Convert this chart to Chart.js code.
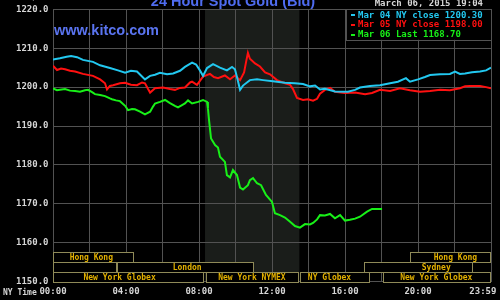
<!DOCTYPE html>
<html><head><meta charset="utf-8">
<script src="https://cdn.jsdelivr.net/npm/chart.js@4.4.1/dist/chart.umd.min.js"></script>
<style>html,body{margin:0;padding:0;background:#000;}canvas{display:block;}</style>
</head><body>
<canvas id="c" width="500" height="300"></canvas>
<script>
// ---- data ----
const seriesNames = ['Mar 04 NY close', 'Mar 05 NY close', 'Mar 06 Last'];
const seriesQuotes = [1200.30, 1198.00, 1168.70];

const mar04Hours = [0.00,0.38,0.75,0.99,1.32,1.64,2.19,2.58,3.12,3.56,3.95,4.27,4.60,5.04,5.32,5.59,5.86,6.25,6.58,6.96,7.23,7.62,7.84,8.05,8.22,8.44,8.77,9.15,9.53,9.81,9.97,10.08,10.25,10.41,10.79,11.18,11.51,12.05,12.71,13.26,13.70,14.08,14.36,14.63,14.90,15.45,16.16,16.55,16.82,17.37,17.92,18.47,18.90,19.34,19.56,20.00,20.38,20.66,21.21,21.75,22.03,22.30,22.58,22.96,23.40,23.73,24.00];
const mar04Prices = [1207.1,1207.4,1207.8,1208.0,1207.7,1207.0,1206.5,1205.6,1204.9,1204.3,1203.7,1204.2,1204.0,1202.0,1202.9,1203.2,1203.7,1203.3,1203.5,1204.2,1205.2,1206.3,1205.8,1204.3,1202.9,1204.9,1205.9,1205.0,1204.3,1205.2,1204.6,1202.6,1199.3,1200.4,1201.8,1202.0,1201.8,1201.5,1201.1,1201.0,1200.8,1200.2,1200.4,1199.4,1199.6,1198.9,1198.8,1199.3,1199.9,1200.3,1200.5,1201.0,1201.4,1202.3,1201.4,1202.0,1202.6,1203.1,1203.3,1203.4,1204.0,1203.4,1203.5,1203.8,1204.0,1204.3,1205.0];

const mar05Hours = [0.00,0.22,0.44,0.66,0.93,1.21,1.64,2.19,2.58,2.85,2.96,3.12,3.29,3.67,3.95,4.27,4.60,4.88,5.04,5.21,5.32,5.59,6.03,6.41,6.68,6.96,7.23,7.51,7.62,7.89,8.22,8.60,8.82,9.04,9.42,9.70,9.97,10.25,10.47,10.58,10.68,10.79,11.07,11.34,11.62,11.89,12.27,12.71,12.99,13.15,13.37,13.70,13.97,14.25,14.47,14.63,14.90,15.18,15.45,16.00,16.55,17.10,17.48,17.92,18.47,19.01,19.56,20.11,20.66,21.21,21.75,22.30,22.58,22.85,23.40,23.73,24.00];
const mar05Prices = [1205.5,1204.4,1204.8,1204.6,1204.2,1204.0,1203.4,1202.9,1202.0,1201.0,1199.4,1200.3,1200.5,1201.0,1201.1,1200.6,1200.5,1201.2,1201.0,1199.5,1198.6,1199.7,1199.9,1199.5,1199.3,1199.8,1199.9,1201.2,1201.4,1200.6,1202.7,1203.4,1202.6,1202.3,1203.0,1202.0,1203.0,1201.8,1203.8,1206.5,1208.8,1207.3,1206.1,1205.3,1203.8,1203.3,1201.8,1201.0,1200.6,1199.5,1197.2,1196.7,1196.9,1196.5,1197.0,1198.3,1199.3,1199.8,1198.8,1198.5,1198.6,1198.2,1198.5,1199.3,1199.0,1199.7,1199.2,1198.8,1199.0,1199.3,1199.2,1199.7,1200.2,1200.3,1200.3,1200.0,1199.7];

const mar06Hours = [0.00,0.22,0.38,0.66,0.93,1.21,1.48,1.75,1.92,2.14,2.30,2.58,2.85,3.12,3.23,3.45,3.67,3.95,4.11,4.33,4.49,4.77,5.04,5.32,5.48,5.59,5.86,6.14,6.41,6.68,6.85,7.07,7.23,7.40,7.62,7.95,8.22,8.44,8.49,8.55,8.66,8.88,9.04,9.15,9.42,9.53,9.70,9.86,10.08,10.25,10.41,10.68,10.79,10.96,11.18,11.40,11.67,12.00,12.16,12.44,12.71,12.99,13.26,13.53,13.81,14.08,14.25,14.47,14.63,14.90,15.18,15.45,15.73,16.00,16.27,16.55,16.82,17.21,17.48,18.03];
const mar06Prices = [1199.7,1199.2,1199.3,1199.5,1199.1,1199.0,1198.8,1199.2,1199.3,1198.7,1198.2,1198.0,1197.7,1197.1,1196.9,1196.6,1196.4,1195.2,1194.1,1194.4,1194.3,1193.7,1193.0,1193.7,1195.0,1195.8,1196.2,1196.7,1195.9,1195.2,1194.8,1195.4,1195.8,1196.6,1195.8,1196.2,1196.7,1196.2,1194.5,1191.5,1186.8,1185.1,1184.5,1182.1,1180.8,1177.4,1176.8,1178.7,1177.4,1174.2,1173.7,1174.8,1176.1,1176.6,1175.3,1174.8,1172.3,1170.5,1167.6,1167.1,1166.5,1165.4,1164.3,1163.9,1164.8,1164.7,1165.1,1166.0,1167.1,1167.0,1167.4,1166.3,1167.1,1165.7,1165.9,1166.2,1166.7,1168.0,1168.7,1168.7];

const xTickHours = [0, 4, 8, 12, 16, 20, 24];
const xTickLabels = ['00:00', '04:00', '08:00', '12:00', '16:00', '20:00', '23:59'];
const yMin = 1150, yMax = 1220, yStep = 10;

// trading sessions (NY time, hours)
const sessionNames = ['Hong Kong', 'Hong Kong', '', 'London', 'Sydney', 'New York Globex', 'New York NYMEX', 'NY Globex', 'New York Globex'];
const sessionStart = [0, 19.55, 0, 3.5, 17.03, 0, 8.36, 13.53, 18.06];
const sessionEnd   = [4.45, 24, 3.48, 11.0, 23.0, 8.29, 13.48, 17.39, 24];
const sessionRow   = [0, 0, 1, 1, 1, 2, 2, 2, 2];
const sessionLabelHour = [2.1, 22.05, null, 7.35, 21.0, 3.65, 10.9, 15.15, 21.0];
const comexWindow = [8.33, 13.5];

const titleText = '24 Hour Spot Gold (Bid)';
const siteText = 'www.kitco.com';
const stampText = 'March 06, 2015 19:04';
const unitText = 'USD/OZ';
const timeZoneText = 'NY Time';

// ---- styling ----
const colors = ['#22c8f0', '#ff1010', '#18f018'];
const GRID = '#525252';
const MONO = '"DejaVu Sans Mono", monospace';
const SESSION_TEXT = '#e2b000';
const SESSION_BORDER = '#8f8a58';

const zip = (h, p) => h.map((v, i) => ({x: v, y: p[i]}));
const seriesData = [zip(mar04Hours, mar04Prices), zip(mar05Hours, mar05Prices), zip(mar06Hours, mar06Prices)];

const decor = {
  id: 'decor',
  beforeDraw(chart) {
    const {ctx, chartArea: a, scales: {x}} = chart;
    ctx.save();
    ctx.fillStyle = '#000';
    ctx.fillRect(0, 0, chart.width, chart.height);
    const x0 = x.getPixelForValue(comexWindow[0]);
    const x1 = x.getPixelForValue(comexWindow[1]);
    ctx.fillStyle = '#1a1d1a';
    ctx.fillRect(x0, a.top, x1 - x0, a.bottom - a.top);
    ctx.restore();
  },
  afterDraw(chart) {
    const {ctx, chartArea: a, scales: {x}} = chart;
    ctx.save();
    // sessions
    const rowH = 10;
    ctx.font = 'bold 8px ' + MONO;
    ctx.textBaseline = 'middle';
    ctx.textAlign = 'center';
    for (let i = 0; i < sessionNames.length; i++) {
      const xs = Math.round(x.getPixelForValue(sessionStart[i]));
      const xe = Math.round(x.getPixelForValue(sessionEnd[i]));
      const top = Math.round(a.bottom - (3 - sessionRow[i]) * rowH);
      ctx.fillStyle = '#000';
      ctx.fillRect(xs, top, xe - xs, rowH);
      ctx.strokeStyle = SESSION_BORDER;
      ctx.lineWidth = 1;
      ctx.strokeRect(xs + 0.5, top + 0.5, xe - xs - 1, rowH);
      if (sessionNames[i]) {
        ctx.fillStyle = SESSION_TEXT;
        ctx.fillText(sessionNames[i], x.getPixelForValue(sessionLabelHour[i]), top + rowH / 2 + 0.5);
      }
    }
    // legend box
    const lw = 145, lh = 30.5;
    const lx = a.right - lw, ly = a.top;
    ctx.fillStyle = '#000';
    ctx.fillRect(lx, ly, lw, lh);
    ctx.strokeStyle = GRID;
    ctx.strokeRect(Math.round(lx) + 0.5, Math.round(ly) + 0.5, lw, Math.round(lh));
    ctx.font = 'bold 9px ' + MONO;
    ctx.textAlign = 'left';
    ctx.textBaseline = 'middle';
    for (let i = 0; i < seriesNames.length; i++) {
      const cy = ly + 6 + i * 9.7;
      ctx.fillStyle = colors[i];
      ctx.fillRect(lx + 5, Math.round(cy) - 1, 4, 2);
      ctx.fillText(seriesNames[i] + ' ' + seriesQuotes[i].toFixed(2), lx + 12, cy);
    }
    // stamp
    ctx.fillStyle = '#d6d6d6';
    ctx.textAlign = 'right';
    ctx.fillText(stampText, a.right - 8, 4);
    // unit
    ctx.fillText(unitText, 48.5, -2);
    // time zone
    ctx.textAlign = 'left';
    ctx.font = 'bold 8px ' + MONO;
    ctx.fillText(timeZoneText, 3, 293);
    // title
    ctx.fillStyle = '#4f6cf0';
    ctx.font = 'bold 14.5px "Liberation Sans", Arial, sans-serif';
    ctx.textAlign = 'center';
    ctx.textBaseline = 'alphabetic';
    ctx.fillText(titleText, 233, 5.5);
    ctx.fillStyle = '#5a74f0';
    ctx.textAlign = 'left';
    ctx.fillText(siteText, 54, 35);
    ctx.restore();
  }
};

const labelMap = {};
xTickHours.forEach((h, i) => { labelMap[h] = xTickLabels[i]; });

new Chart(document.getElementById('c'), {
  type: 'line',
  data: {
    datasets: seriesData.map((d, i) => ({
      label: seriesNames[i],
      data: d,
      borderColor: colors[i],
      backgroundColor: colors[i],
      borderWidth: 2,
      pointRadius: 0,
      tension: 0,
      fill: false
    }))
  },
  options: {
    responsive: false,
    animation: false,
    devicePixelRatio: 1,
    layout: {padding: {top: 9.3, right: 9, left: 0, bottom: 0}},
    plugins: {legend: {display: false}, tooltip: {enabled: false}, title: {display: false}},
    scales: {
      x: {
        type: 'linear', min: 0, max: 24,
        afterFit(s) { s.height = 18.3; s.paddingLeft = 0; s.paddingRight = 0; s.paddingTop = 0; s.paddingBottom = 0; },
        grid: {color: GRID, drawTicks: false, lineWidth: 1},
        border: {color: GRID},
        ticks: {
          stepSize: 2, autoSkip: false, maxRotation: 0, minRotation: 0, padding: 5,
          color: '#d6d6d6', font: {family: MONO, size: 9, weight: 'bold'},
          callback: v => (v in labelMap ? (v === 24 ? labelMap[v] + '   ' : labelMap[v]) : '')
        }
      },
      y: {
        min: yMin, max: yMax,
        afterFit(s) { s.width = 53; s.paddingLeft = 0; s.paddingRight = 0; s.paddingTop = 0; s.paddingBottom = 0; },
        grid: {color: GRID, drawTicks: false, lineWidth: 1},
        border: {color: GRID},
        ticks: {
          stepSize: yStep, padding: 4.5,
          color: '#d6d6d6', font: {family: MONO, size: 9, weight: 'bold'},
          callback: v => Number(v).toFixed(1)
        }
      }
    }
  },
  plugins: [decor]
});
</script>
</body></html>
